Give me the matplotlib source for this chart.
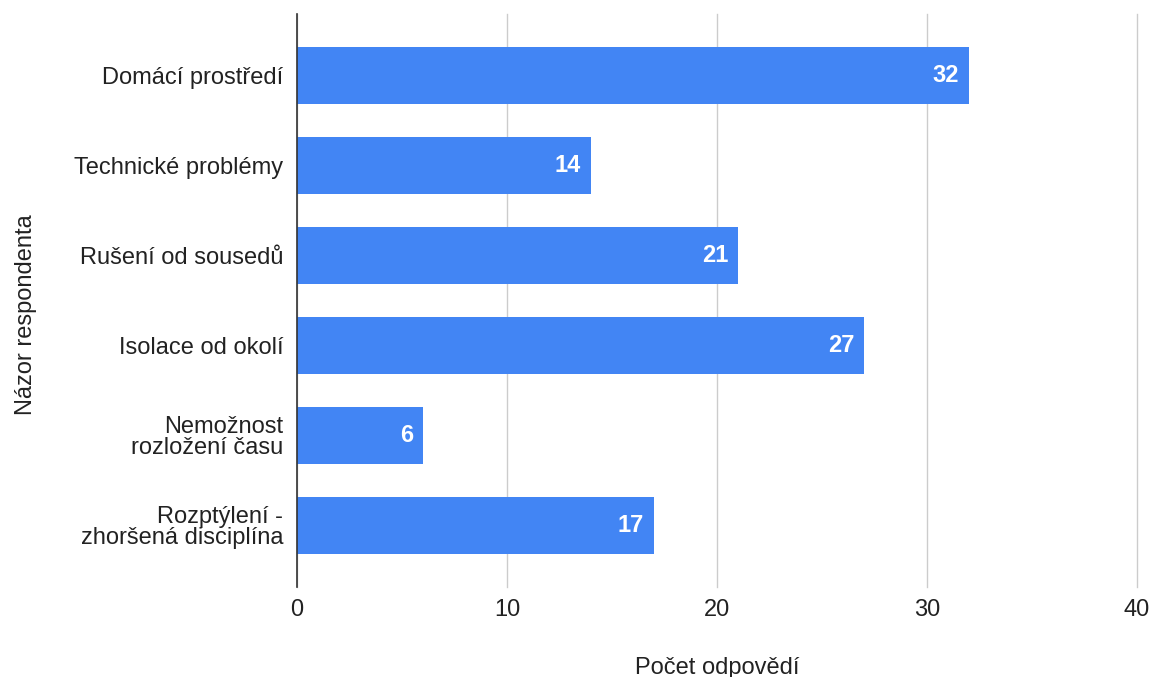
import matplotlib.pyplot as plt

# data
categories = ['Domácí prostředí', 'Technické problémy', 'Rušení od sousedů',
              'Isolace od okolí', 'Nemožnost\nrozložení času',
              'Rozptýlení -\nzhoršená disciplína']
values = [32, 14, 21, 27, 6, 17]
xticks = [0, 10, 20, 30, 40]

plt.rcParams['font.family'] = ['Liberation Sans', 'DejaVu Sans']
text_color = '#222222'

fig = plt.figure(figsize=(11.51, 6.77), dpi=100)
ax = fig.add_axes([0.258, 0.133, 0.7298, 0.846])

pos = list(range(len(categories)))
bars = ax.barh(pos, values, height=0.633, color='#4285F4', zorder=3)

for p, v in zip(pos, values):
    ax.annotate(str(v), xy=(v, p), xytext=(-7, 0), textcoords='offset points',
                ha='right', va='center', color='white', fontsize=17,
                fontweight='bold', zorder=4)

ax.set_ylim(5.68, -0.68)
ax.set_xlim(0, 40)
ax.set_xticks(xticks)
ax.set_yticks(pos)
ax.set_yticklabels(categories, linespacing=0.92)
ax.tick_params(axis='both', length=0, labelsize=17, colors=text_color)
ax.tick_params(axis='y', pad=10)
ax.tick_params(axis='x', pad=9)

ax.grid(axis='x', color='#cccccc', linewidth=1, zorder=0)
for gl in ax.get_xgridlines():
    gl.set_clip_on(False)
for s in ['top', 'right', 'bottom']:
    ax.spines[s].set_visible(False)
ax.spines['left'].set_color('#333333')
ax.spines['left'].set_linewidth(1.2)
ax.spines['left'].set_zorder(5)

ax.set_xlabel('Počet odpovědí', fontsize=17, color=text_color)
ax.xaxis.set_label_coords(0.5, -0.122)
ax.set_ylabel('Názor respondenta', fontsize=17, color=text_color)
ax.yaxis.set_label_coords(-0.31, 0.475)

fig.savefig('out.png', dpi=100)
